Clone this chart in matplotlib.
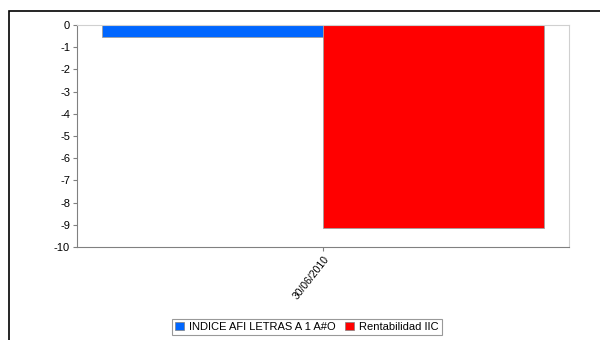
import matplotlib.pyplot as plt
from matplotlib.patches import Rectangle, Patch

plt.rcParams['font.family'] = ['Liberation Sans', 'DejaVu Sans']

fechas = ['30/06/2010']
indice_afi = [-0.55]
rentabilidad_iic = [-9.15]
series = ['INDICE AFI LETRAS A 1 A#O', 'Rentabilidad IIC']
colores = ['#0066ff', '#ff0000']
yticks = list(range(0, -11, -1))

fig = plt.figure(figsize=(6, 3.4), dpi=100)
ax = fig.add_axes([77 / 600, 1 - 247 / 340, (569 - 77) / 600, (247 - 25) / 340])

w = 0.45
ax.bar([i - w / 2 for i in range(len(fechas))], indice_afi, width=w, align='center',
       color=colores[0], edgecolor='#a0a0a0', linewidth=0.6)
ax.bar([i + w / 2 for i in range(len(fechas))], rentabilidad_iic, width=w, align='center',
       color=colores[1], edgecolor='#a0a0a0', linewidth=0.6)

ax.set_xlim(-0.5, 0.5)
ax.set_ylim(-10, 0)
ax.set_yticks(yticks)
ax.set_yticklabels([str(t) for t in yticks], fontsize=8)
ax.set_xticks(range(len(fechas)))
ax.set_xticklabels(fechas, rotation=52, ha='right', rotation_mode='anchor', fontsize=7.5)

for s in ['left', 'bottom']:
    ax.spines[s].set_color('#808080')
for s in ['top', 'right']:
    ax.spines[s].set_color('#d0d0d0')
ax.tick_params(axis='both', length=3, color='#808080', width=0.8, pad=2)

# marco exterior
fig.patches.append(Rectangle((9 / 600, -0.1), 1.2, 1 - 11 / 340 + 0.1,
                             transform=fig.transFigure, fill=False,
                             edgecolor='black', linewidth=1.2))

handles = [Patch(facecolor=c, edgecolor='#808080', linewidth=0.5) for c in colores]
leg = fig.legend(handles, series, loc='center', bbox_to_anchor=(307 / 600, 1 - 327 / 340),
                 ncol=2, prop={'size': 8, 'stretch': 'expanded'}, frameon=True,
                 fancybox=False, handlelength=0.8, handleheight=0.8, handletextpad=0.5,
                 columnspacing=0.8, borderpad=0.3, borderaxespad=0)
leg.get_frame().set_edgecolor('#808080')
leg.get_frame().set_linewidth(0.8)

fig.savefig('out.png', dpi=100)
